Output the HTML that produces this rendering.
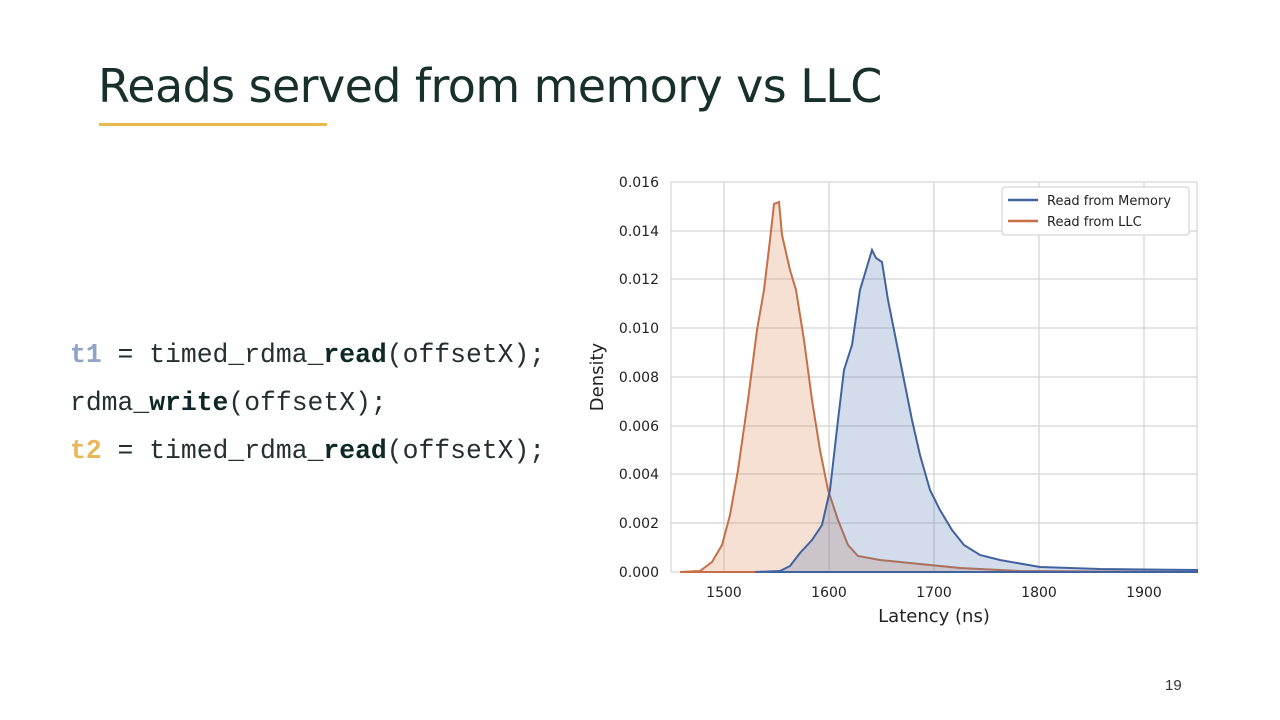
<!DOCTYPE html>
<html><head><meta charset="utf-8"><style>
body{margin:0;width:1280px;height:720px;background:#fff;position:relative;overflow:hidden;font-family:"Liberation Sans",sans-serif}
.t{position:absolute;left:98px;top:59px;font-size:46px;color:#17302c;font-family:"DejaVu Sans","Liberation Sans",sans-serif;letter-spacing:-0.6px}
.ul{position:absolute;left:99px;top:123px;width:228px;height:3px;background:#e8b94e}
.code{position:absolute;left:70px;font-family:"Liberation Mono",monospace;font-size:26.4px;color:#24302f}
.code b{color:#0d2826}
.pg{position:absolute;left:1165px;top:677px;font-size:15px;color:#333}
</style></head><body>
<div class="t">Reads served from memory vs LLC</div>
<div class="ul"></div>
<div class="code" style="top:340px"><b style="color:#8ea3c6">t1</b> = timed_rdma_<b>read</b>(offsetX);</div>
<div class="code" style="top:388px">rdma_<b>write</b>(offsetX);</div>
<div class="code" style="top:436px"><b style="color:#e9b659">t2</b> = timed_rdma_<b>read</b>(offsetX);</div>
<svg style="position:absolute;left:0;top:0" width="1280" height="720" font-family="DejaVu Sans,sans-serif">
<rect x="671" y="182" width="526" height="390" fill="#fff" stroke="#ccc"/>
<g stroke="#d3d3d3" stroke-width="1.2">
<line x1="724" y1="182" x2="724" y2="572"/><line x1="829" y1="182" x2="829" y2="572"/><line x1="934" y1="182" x2="934" y2="572"/><line x1="1039" y1="182" x2="1039" y2="572"/><line x1="1144" y1="182" x2="1144" y2="572"/>
<line x1="671" y1="231" x2="1197" y2="231"/><line x1="671" y1="279" x2="1197" y2="279"/><line x1="671" y1="328" x2="1197" y2="328"/><line x1="671" y1="377" x2="1197" y2="377"/><line x1="671" y1="426" x2="1197" y2="426"/><line x1="671" y1="474" x2="1197" y2="474"/><line x1="671" y1="523" x2="1197" y2="523"/>
</g>
<path d="M680,572 L700,571 712,562 722,545 730,515 738,470 748,400 757,330 764,290 770,240 774,204 779,202 782,235 790,270 796,290 804,340 812,400 820,450 828,490 838,520 848,545 858,556 880,560 910,563 960,568 1020,571 1197,572 Z" fill="#dd8452" fill-opacity="0.25" stroke="#c86e45" stroke-width="2"/>
<path d="M755,572 L780,571 790,566 800,553 812,540 822,525 830,490 838,420 844,370 852,345 860,290 866,270 872,250 876,258 882,262 888,300 896,340 904,380 912,420 920,455 930,490 940,510 952,530 964,545 980,555 1000,560 1040,567 1100,569 1197,570 L1197,572 Z" fill="#4c72b0" fill-opacity="0.25" stroke="#4063a0" stroke-width="2"/>
<g font-size="14" fill="#222" text-anchor="end">
<text x="659" y="187">0.016</text><text x="659" y="236">0.014</text><text x="659" y="284">0.012</text><text x="659" y="333">0.010</text><text x="659" y="382">0.008</text><text x="659" y="431">0.006</text><text x="659" y="479">0.004</text><text x="659" y="528">0.002</text><text x="659" y="577">0.000</text>
</g>
<g font-size="14" fill="#222" text-anchor="middle">
<text x="724" y="597">1500</text><text x="829" y="597">1600</text><text x="934" y="597">1700</text><text x="1039" y="597">1800</text><text x="1144" y="597">1900</text>
</g>
<text x="934" y="622" font-size="18" text-anchor="middle" fill="#222">Latency (ns)</text>
<text transform="translate(603,377) rotate(-90)" font-size="18" text-anchor="middle" fill="#222">Density</text>
<rect x="1002" y="187" width="187" height="48" rx="3" fill="#fff" stroke="#ccc"/>
<line x1="1008" y1="200" x2="1038" y2="200" stroke="#4063a0" stroke-width="2.5"/>
<line x1="1008" y1="221" x2="1038" y2="221" stroke="#c86e45" stroke-width="2.5"/>
<text x="1047" y="205" font-size="13" fill="#222">Read from Memory</text>
<text x="1047" y="226" font-size="13" fill="#222">Read from LLC</text>
</svg>
<div class="pg">19</div>
</body></html>
